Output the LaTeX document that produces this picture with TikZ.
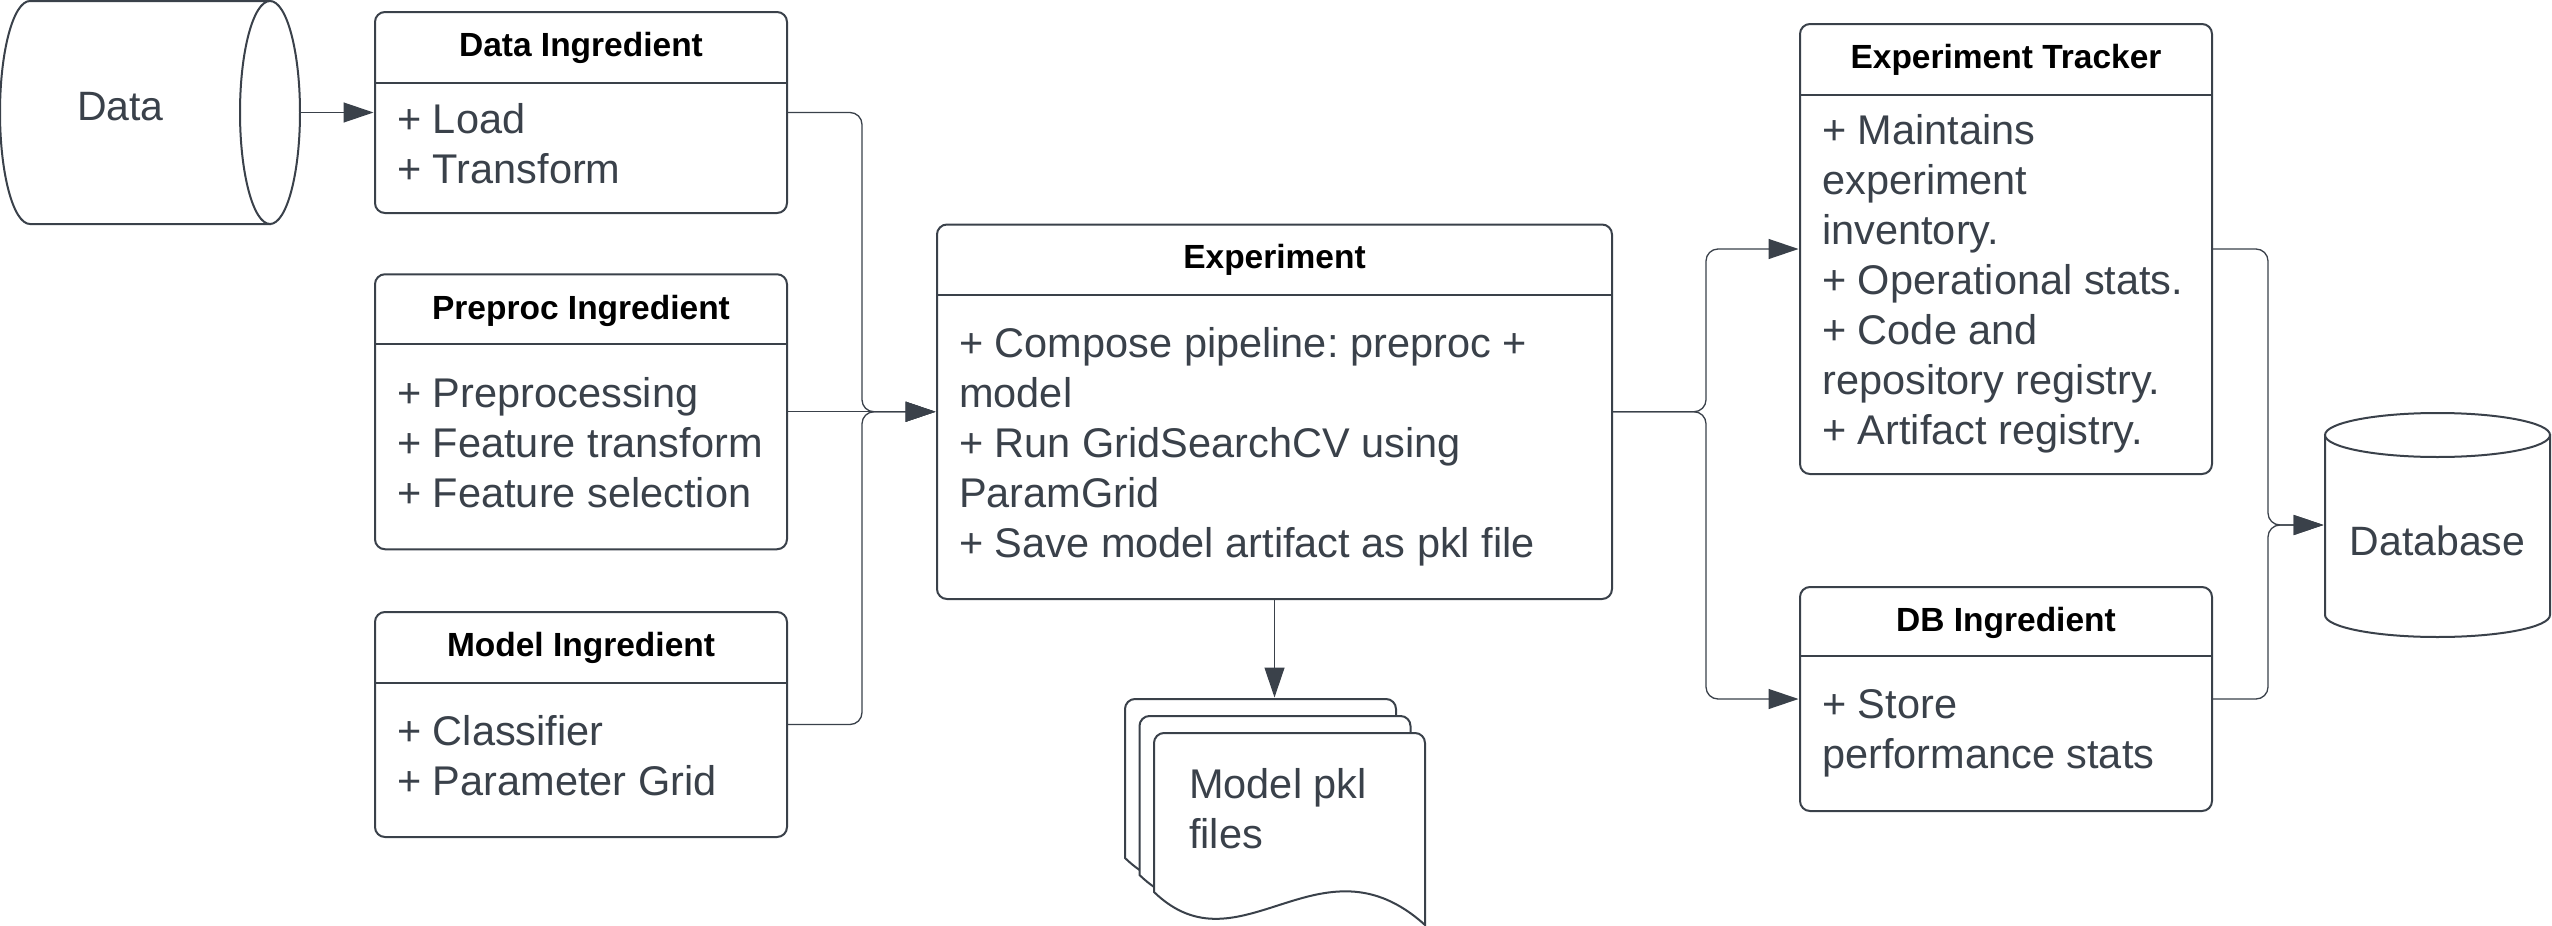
\documentclass[tikz,border=0pt]{standalone}
\usepackage{fontspec}
\setmainfont{Liberation Sans}
\usetikzlibrary{arrows.meta}
\definecolor{lc}{RGB}{58,65,74}
\newcommand\lstrut{\rule[-15pt]{0pt}{50pt}}
\frenchspacing
\begin{document}
\begin{tikzpicture}[x=1pt,y=-1pt,
  boxshape/.style={draw=lc, line width=2pt, rounded corners=10pt, fill=white, inner sep=0pt, outer sep=0pt},
  hidden/.style={inner sep=0pt, outer sep=0pt},
  divline/.style={draw=lc, line width=1.5pt},
  ttl/.style={font=\fontsize{33.5}{40}\selectfont\bfseries, text=black, inner sep=0pt, anchor=base},
  bodytxt/.style={font=\fontsize{41.5}{50}\selectfont, text=lc, inner sep=0pt, align=left, anchor=west},
  plaintxt/.style={font=\fontsize{41}{50}\selectfont, text=lc, inner sep=0pt, anchor=base},
  conn/.style={draw=lc, line width=1.3pt, rounded corners=12pt, shorten >=1.5pt, -{Triangle[length=30pt,width=20pt]}},
  shp/.style={draw=lc, line width=2pt, fill=white},
]
\useasboundingbox[fill=white] (0,0) rectangle (2552,926);

% ---------- Data cylinder ----------
\node[hidden, minimum width=300pt, minimum height=223pt] (data) at (150,112.5) {};
\draw[shp] (30,1) arc[start angle=90, end angle=270, x radius=30pt, y radius=111.5pt] -- (270,224) -- (270,1) -- cycle;
\draw[shp] (270,112.5) ellipse [x radius=30pt, y radius=111.5pt];
\node[plaintxt] (dataT) at (120.5,120) {Data};

% ---------- Data Ingredient ----------
\node[boxshape, minimum width=412pt, minimum height=201pt] (dataing) at (581,112.5) {};
\draw[divline] (375,83) -- (787,83);
\node[ttl] (dataingT) at (581,56) {Data Ingredient};
\node[bodytxt] (dataingB) at (397,148) {+ Load\lstrut\\+ Transform\lstrut};

% ---------- Preproc Ingredient ----------
\node[boxshape, minimum width=412pt, minimum height=275pt] (preproc) at (581,411.75) {};
\draw[divline] (375,344) -- (787,344);
\node[ttl] (preprocT) at (581,319) {Preproc Ingredient};
\node[bodytxt] (preprocB) at (397,447) {+ Preprocessing\lstrut\\+ Feature transform\lstrut\\+ Feature selection\lstrut};

% ---------- Model Ingredient ----------
\node[boxshape, minimum width=412pt, minimum height=225pt] (model) at (581,724.5) {};
\draw[divline] (375,683) -- (787,683);
\node[ttl] (modelT) at (581,656) {Model Ingredient};
\node[bodytxt] (modelB) at (397,760) {+ Classifier\lstrut\\+ Parameter Grid\lstrut};

% ---------- Experiment ----------
\node[boxshape, minimum width=675pt, minimum height=374.5pt] (exper) at (1274.5,411.75) {};
\draw[divline] (937,295) -- (1612,295);
\node[ttl] (experT) at (1274.5,268.5) {Experiment};
\node[bodytxt] (experB) at (959,447) {+ Compose pipeline: preproc +\lstrut\\model\lstrut\\+ Run GridSearchCV using\lstrut\\ParamGrid\lstrut\\+ Save model artifact as pkl file\lstrut};

% ---------- Model pkl files ----------
\node[hidden, minimum width=300pt, minimum height=226pt] (pkl) at (1275,812) {};
\foreach \dx/\dy in {-29/-34, -14.5/-17, 0/0}{
  \begin{scope}[shift={(\dx,\dy)}]
    \draw[shp] (1154,892) -- (1154,743) arc[start angle=180, end angle=90, radius=10pt]
      -- (1415,733) arc[start angle=90, end angle=0, radius=10pt]
      -- (1425,925) .. controls (1320,830) and (1240,975) .. (1154,892) -- cycle;
  \end{scope}
}
\node[bodytxt] (pklT) at (1189,813) {Model pkl\lstrut\\files\lstrut};

% ---------- Experiment Tracker ----------
\node[boxshape, minimum width=412pt, minimum height=450pt] (tracker) at (2006,249) {};
\draw[divline] (1800,95) -- (2212,95);
\node[ttl] (trackerT) at (2006,68) {Experiment Tracker};
\node[bodytxt] (trackerB) at (1822,284.5) {+ Maintains\lstrut\\experiment\lstrut\\inventory.\lstrut\\+ Operational stats.\lstrut\\+ Code and\lstrut\\repository registry.\lstrut\\+ Artifact registry.\lstrut};

% ---------- DB Ingredient ----------
\node[boxshape, minimum width=412pt, minimum height=224pt] (dbing) at (2006,699) {};
\draw[divline] (1800,656) -- (2212,656);
\node[ttl] (dbingT) at (2006,631) {DB Ingredient};
\node[bodytxt] (dbingB) at (1822,733.5) {+ Store\lstrut\\performance stats\lstrut};

% ---------- Database cylinder ----------
\node[hidden, minimum width=225pt, minimum height=224pt] (database) at (2437.5,525) {};
\draw[shp] (2325,435) -- (2325,615) arc[start angle=180, end angle=360, x radius=112.5pt, y radius=22pt] -- (2550,435) -- cycle;
\draw[shp] (2437.5,435) ellipse [x radius=112.5pt, y radius=22pt];
\node[plaintxt] (databaseT) at (2437.5,555) {Database};

% ---------- Connectors ----------
\coordinate (jL) at (862,411.75);
\coordinate (jR) at (1706,411.75);
\coordinate (jD) at (2268,525);

\draw[conn] (data.east) -- (dataing.west);
\draw[conn] (dataing.east) -- (dataing.east -| jL) -- (jL) -- (exper.west);
\draw[conn] (preproc.east) -- (exper.west);
\draw[conn] (model.east) -- (model.east -| jL) -- (jL) -- (exper.west);
\draw[conn] (exper.south) -- (exper.south |- pkl.north);
\draw[conn] (exper.east) -- (jR) -- (jR |- tracker.west) -- (tracker.west);
\draw[conn] (exper.east) -- (jR) -- (jR |- dbing.west) -- (dbing.west);
\draw[conn] (tracker.east) -- (tracker.east -| jD) -- (jD) -- (database.west);
\draw[conn] (dbing.east) -- (dbing.east -| jD) -- (jD) -- (database.west);
\end{tikzpicture}
\end{document}
